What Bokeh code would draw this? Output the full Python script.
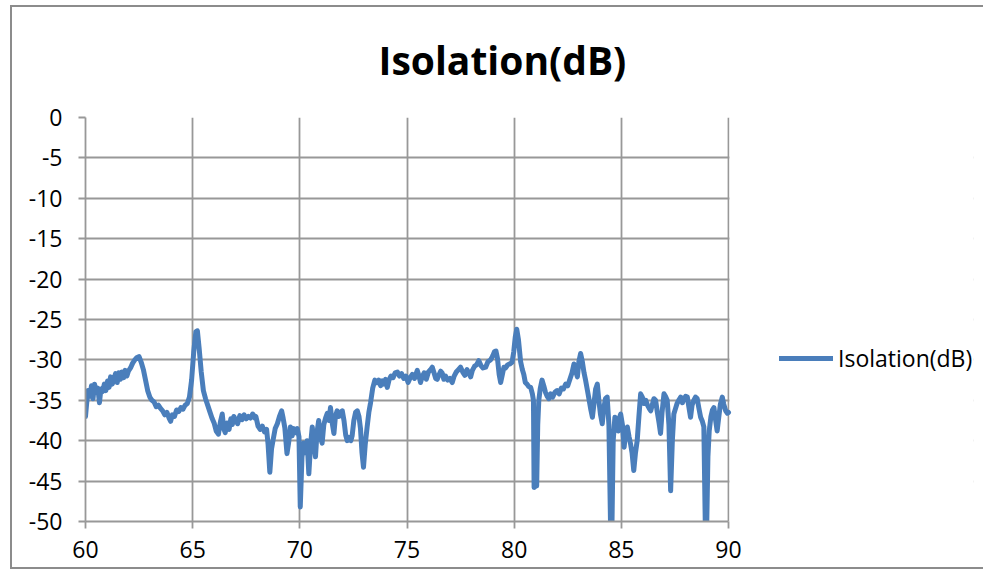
from bokeh.plotting import figure
from bokeh.models import Range1d, Title, Legend, LegendItem, FixedTicker, BoxAnnotation
from bokeh.embed import file_html
from bokeh.resources import INLINE

title_text = "Isolation(dB)"
series_name = "Isolation(dB)"
x_ticks = [60, 65, 70, 75, 80, 85, 90]
y_ticks = [0, -5, -10, -15, -20, -25, -30, -35, -40, -45, -50]
y_tick_labels = ["0", "-5", "-10", "-15", "-20", "-25", "-30", "-35", "-40", "-45", "-50"]

freq = [
    60.00, 60.05, 60.12, 60.2, 60.28, 60.35, 60.42, 60.5, 60.58, 60.65, 60.72, 60.8, 60.88, 60.95,
    61.03, 61.1, 61.17, 61.25, 61.33, 61.4, 61.48, 61.55, 61.63, 61.7, 61.78, 61.85, 61.93, 62.0,
    62.1, 62.2, 62.3, 62.4, 62.5, 62.6, 62.7, 62.8, 62.9, 63.0, 63.1, 63.2, 63.3, 63.4, 63.5, 63.6,
    63.7, 63.8, 63.9, 63.97, 64.05, 64.15, 64.25, 64.35, 64.45, 64.55, 64.65, 64.75, 64.85, 64.95,
    65.05, 65.15, 65.22, 65.3, 65.4, 65.5, 65.6, 65.7, 65.8, 65.9, 66.0, 66.1, 66.2, 66.3, 66.38,
    66.45, 66.52, 66.6, 66.7, 66.78, 66.85, 66.92, 67.0, 67.1, 67.2, 67.3, 67.4, 67.5, 67.6, 67.7,
    67.8, 67.9, 67.95, 68.05, 68.15, 68.25, 68.35, 68.45, 68.52, 68.6, 68.68, 68.76, 68.85, 68.95,
    69.05, 69.15, 69.22, 69.3, 69.4, 69.48, 69.56, 69.64, 69.72, 69.8, 69.88, 69.96, 70.02, 70.1,
    70.18, 70.26, 70.34, 70.42, 70.5, 70.58, 70.66, 70.73, 70.8, 70.88, 70.96, 71.04, 71.12, 71.2,
    71.28, 71.36, 71.43, 71.51, 71.59, 71.66, 71.74, 71.82, 71.9, 71.98, 72.06, 72.14, 72.21, 72.3,
    72.38, 72.44, 72.52, 72.6, 72.68, 72.76, 72.83, 72.9, 72.97, 73.05, 73.14, 73.22, 73.3, 73.4,
    73.5, 73.6, 73.68, 73.77, 73.85, 73.93, 74.0, 74.08, 74.16, 74.25, 74.35, 74.45, 74.55, 74.65,
    74.75, 74.85, 74.95, 75.05, 75.15, 75.25, 75.35, 75.48, 75.56, 75.63, 75.72, 75.8, 75.9, 76.0,
    76.1, 76.18, 76.26, 76.34, 76.41, 76.5, 76.57, 76.64, 76.72, 76.8, 76.9, 77.0, 77.11, 77.2,
    77.3, 77.4, 77.5, 77.6, 77.7, 77.8, 77.88, 77.97, 78.05, 78.15, 78.25, 78.35, 78.45, 78.55,
    78.67, 78.78, 78.9, 79.0, 79.08, 79.15, 79.22, 79.3, 79.37, 79.45, 79.52, 79.6, 79.7, 79.8,
    79.9, 79.98, 80.05, 80.12, 80.2, 80.3, 80.38, 80.45, 80.52, 80.6, 80.68, 80.77, 80.85, 80.9,
    80.93, 81.0, 81.05, 81.1, 81.15, 81.22, 81.3, 81.38, 81.46, 81.54, 81.62, 81.7, 81.8, 81.9,
    82.0, 82.1, 82.2, 82.3, 82.4, 82.5, 82.6, 82.7, 82.79, 82.87, 82.95, 83.02, 83.1, 83.18, 83.26,
    83.33, 83.42, 83.5, 83.58, 83.65, 83.72, 83.8, 83.88, 83.95, 84.03, 84.11, 84.18, 84.26, 84.34,
    84.42, 84.5, 84.56, 84.62, 84.7, 84.78, 84.86, 84.93, 84.97, 85.05, 85.13, 85.2, 85.28, 85.36,
    85.43, 85.5, 85.58, 85.66, 85.74, 85.82, 85.9, 85.98, 86.06, 86.14, 86.22, 86.3, 86.37, 86.45,
    86.52, 86.6, 86.68, 86.76, 86.83, 86.9, 86.99, 87.06, 87.14, 87.22, 87.3, 87.38, 87.45, 87.53,
    87.6, 87.7, 87.77, 87.85, 87.93, 88.0, 88.08, 88.15, 88.23, 88.3, 88.38, 88.46, 88.54, 88.62,
    88.7, 88.78, 88.85, 88.92, 88.98, 89.04, 89.1, 89.18, 89.25, 89.32, 89.4, 89.47, 89.55, 89.62,
    89.71, 89.78, 89.87, 89.95, 90.0,
]
isolation = [
    -37.0, -35.5, -33.8, -34.5, -33.2, -34.8, -33.0, -34.0, -33.5, -35.3, -33.6, -33.9, -33.0, -33.8,
    -32.6, -33.4, -32.1, -33.0, -32.3, -31.7, -32.8, -31.6, -32.4, -31.5, -32.2, -31.3, -32.0, -31.4,
    -31.0, -30.4, -30.0, -29.7, -29.6, -30.3, -31.2, -32.5, -33.8, -34.6, -35.0, -35.2, -35.8, -35.6, -36.0, -36.3,
    -36.8, -36.5, -37.2, -37.6, -36.8, -37.0, -36.2, -36.4, -35.9, -36.1, -35.6, -35.4, -34.6, -32.5,
    -29.0, -26.5, -26.4, -28.5, -31.5, -33.8, -34.8, -35.6, -36.4, -37.2, -37.8, -38.8, -39.2, -37.6, -36.7,
    -38.5, -39.0, -37.8, -38.6, -37.3, -38.0, -37.0, -37.4, -37.9, -36.9, -37.4, -36.8, -37.3, -37.0, -37.2,
    -36.7, -37.2, -37.0, -38.2, -38.6, -38.2, -38.9, -38.6, -40.5, -43.9, -41.0, -39.8, -38.5, -37.9,
    -37.0, -36.3, -37.2, -38.4, -41.6, -40.2, -38.3, -39.4, -38.5, -39.0, -38.5, -39.5, -48.2, -42.0,
    -40.3, -41.5, -40.0, -44.1, -40.5, -38.3, -40.5, -42.0, -39.0, -37.5, -39.6, -40.3, -38.0, -37.2,
    -36.6, -37.5, -35.9, -37.8, -39.1, -37.0, -36.3, -37.0, -36.5, -36.3, -37.5, -39.3, -40.0, -39.6,
    -40.0, -39.4, -37.5, -36.5, -36.3, -37.0, -38.5, -41.5, -43.3, -40.5, -38.3, -36.5, -35.3, -33.5,
    -32.5, -32.8, -32.5, -33.2, -32.6, -33.0, -32.4, -33.4, -32.5, -32.0, -32.2, -31.6, -31.5, -32.0,
    -31.7, -32.3, -32.0, -32.8, -32.2, -31.8, -32.3, -31.3, -32.0, -32.8, -32.0, -31.6, -32.4, -31.5,
    -31.2, -30.9, -31.6, -32.3, -32.4, -31.8, -31.4, -31.6, -32.4, -32.0, -32.5, -32.3, -32.8, -32.0,
    -31.5, -31.2, -30.9, -31.5, -31.9, -31.2, -31.6, -32.1, -31.3, -30.8, -30.6, -30.1, -30.7, -31.0,
    -30.9, -30.2, -30.0, -29.5, -29.0, -28.9, -29.8, -31.8, -32.8, -31.8, -30.9, -31.0, -30.6, -30.5,
    -30.3, -29.0, -27.2, -26.2, -27.5, -30.2, -31.2, -31.8, -32.8, -33.0, -33.3, -33.4, -34.2, -35.0,
    -45.8, -45.6, -45.6, -38.0, -35.0, -33.5, -32.5, -33.2, -34.0, -34.5, -34.8, -34.2, -34.6, -34.0,
    -33.8, -34.2, -33.5, -33.6, -33.0, -33.2, -32.4, -31.6, -30.5, -31.4, -32.1, -30.2, -29.2, -30.2, -31.6,
    -32.5, -33.8, -35.0, -36.2, -37.1, -35.5, -33.6, -33.0, -35.0, -36.8, -37.9, -36.0, -34.8, -34.6,
    -38.0, -51.0, -51.0, -40.0, -37.1, -37.4, -38.8, -37.0, -36.7, -38.0, -40.8, -39.0, -38.3, -39.5,
    -40.4, -41.5, -43.7, -41.5, -40.0, -37.0, -34.2, -34.6, -35.4, -35.0, -35.6, -36.0, -36.3, -35.5,
    -34.8, -35.0, -36.5, -37.8, -39.1, -36.5, -34.2, -34.5, -35.0, -38.0, -46.2, -40.0, -36.7, -36.0,
    -35.4, -34.9, -34.6, -35.3, -34.8, -34.5, -34.6, -35.8, -37.1, -35.6, -35.0, -34.6, -34.8, -36.0,
    -37.1, -37.6, -38.3, -51.0, -51.0, -42.0, -38.8, -37.0, -36.2, -35.9, -37.5, -38.8, -37.0, -35.5,
    -34.6, -35.5, -36.3, -36.6, -36.5,
]

FONT = "Open Sans"
GRID = "#989898"
LINE = "#4a7ebb"

# canvas geometry: plot frame from 85px to 973px, the 60..90 axis occupies the first 643px
X_MIN, X_MAX = x_ticks[0], x_ticks[-1]
AXIS_PX, FRAME_PX = 643.0, 888.0
x_end = X_MIN + (X_MAX - X_MIN) * FRAME_PX / AXIS_PX

p = figure(width=983, height=569, x_range=Range1d(X_MIN, x_end), y_range=Range1d(y_ticks[-1], y_ticks[0]),
           output_backend="svg", toolbar_location=None, title=None,
           min_border_left=85, min_border_right=10, min_border_top=117, min_border_bottom=48)
p.background_fill_color = "white"
p.border_fill_color = None
p.outline_line_color = None

for ax in (p.xaxis[0], p.yaxis[0]):
    ax.axis_line_color = GRID
    ax.axis_line_width = 1.8
    ax.major_tick_line_color = GRID
    ax.major_tick_line_width = 1.8
    ax.major_tick_out = 7
    ax.major_tick_in = 0
    ax.minor_tick_line_color = None
    ax.major_label_text_font = FONT
    ax.major_label_text_font_size = "23px"
    ax.major_label_text_color = "#000000"

p.xaxis[0].ticker = FixedTicker(ticks=x_ticks)
p.xaxis[0].bounds = (X_MIN, X_MAX)
p.yaxis[0].ticker = FixedTicker(ticks=y_ticks)
p.yaxis[0].major_label_overrides = {t: s for t, s in zip(y_ticks, y_tick_labels)}
p.yaxis[0].major_label_standoff = 16
p.xaxis[0].major_label_standoff = 12

p.xgrid[0].ticker = FixedTicker(ticks=x_ticks)
p.ygrid[0].ticker = FixedTicker(ticks=y_ticks)
for g in (p.xgrid[0], p.ygrid[0]):
    g.grid_line_color = GRID
    g.grid_line_width = 1.8

# blank the part of the frame right of the x axis end (legend area)
p.add_layout(BoxAnnotation(left=X_MAX + 0.045, right=x_end + 2, top=y_ticks[0] + 5,
                           bottom=y_ticks[-1] - 5, fill_color="white", fill_alpha=1.0,
                           line_color=None, level="underlay"))

r = p.line(freq, isolation, line_color=LINE, line_width=5, line_join="round", line_cap="round")

p.add_layout(Title(text=title_text, align="left", offset=293, vertical_align="middle",
                   standoff=62, text_font=FONT, text_font_style="bold",
                   text_font_size="39px", text_color="#000000"), "above")

legend = Legend(items=[LegendItem(label=series_name, renderers=[r])], location=(694, 147),
                border_line_color=None, background_fill_alpha=0, padding=0, margin=0,
                glyph_width=54, glyph_height=26, label_height=26, label_standoff=5,
                label_text_font=FONT, label_text_font_size="23px", label_text_color="#000000")
p.add_layout(legend, "center")

p.styles = {
    "background-color": "white",
    "background-image": "linear-gradient(#8c8c8c,#8c8c8c), linear-gradient(#8c8c8c,#8c8c8c), linear-gradient(#8c8c8c,#8c8c8c)",
    "background-repeat": "no-repeat",
    "background-size": "2px 564px, 100% 2px, 100% 2px",
    "background-position": "10px 5px, 10px 5px, 10px 567px",
}

open("out.html", "w").write(file_html(p, INLINE))
